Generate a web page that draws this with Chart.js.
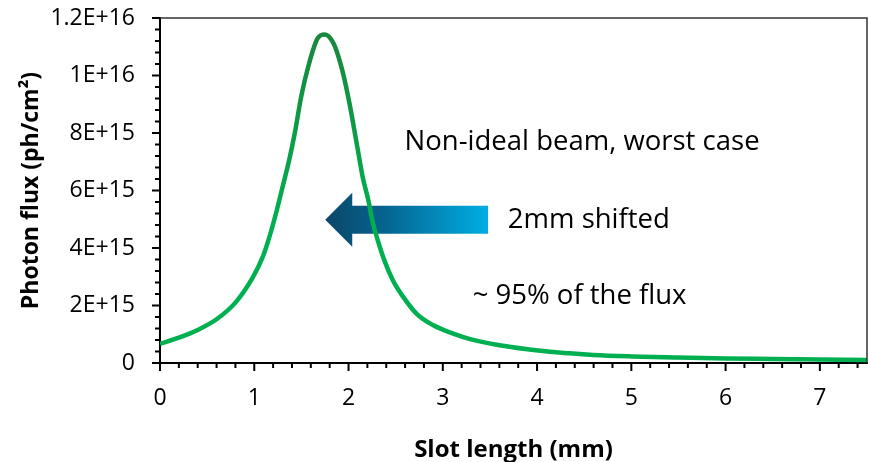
<!DOCTYPE html>
<html lang="en">
<head>
<meta charset="UTF-8">
<title>Photon flux vs slot length</title>
<script src="https://cdn.jsdelivr.net/npm/chart.js"></script>
<style>
  html, body { margin: 0; padding: 0; background: #fff; }
</style>
</head>
<body>
<canvas id="fluxChart" width="869" height="462"></canvas>
<script>
// slot length (mm) and photon flux (ph/cm2) along the slot
const slotLength = [0, 0.2, 0.4, 0.6, 0.8, 0.98, 1.09, 1.16, 1.23, 1.3, 1.37, 1.43, 1.5, 1.58, 1.67,
  1.75, 1.84, 1.92, 2.0, 2.1, 2.15, 2.21, 2.26, 2.31, 2.38, 2.47, 2.58, 2.72, 2.9, 3.11, 3.3, 3.6,
  3.9, 4.2, 4.6, 5.0, 5.5, 6.0, 6.5, 7.0, 7.5];
const photonFlux = [0.67e15, 0.88e15, 1.15e15, 1.52e15, 2.1e15, 2.95e15, 3.69e15, 4.38e15, 5.2e15,
  6.12e15, 7.05e15, 8.0e15, 9.3e15, 10.4e15, 11.28e15, 11.43e15, 11.12e15, 10.35e15, 9.2e15,
  7.39e15, 6.47e15, 5.66e15, 4.85e15, 4.27e15, 3.57e15, 2.88e15, 2.3e15, 1.72e15, 1.31e15, 1.02e15,
  0.82e15, 0.62e15, 0.48e15, 0.37e15, 0.28e15, 0.23e15, 0.19e15, 0.16e15, 0.14e15, 0.12e15, 0.1e15];

const xTicks = [0, 1, 2, 3, 4, 5, 6, 7];
const yTicks = [0, 2e15, 4e15, 6e15, 8e15, 1e16, 1.2e16];
const yTickLabels = ['0', '2E+15', '4E+15', '6E+15', '8E+15', '1E+16', '1.2E+16'];

const notes = ['Non-ideal beam, worst case', '2mm shifted', '~ 95% of the flux'];

const FONT = "'Open Sans', 'Liberation Sans', sans-serif";

// tick marks, plot frame, arrow and text notes
const decorations = {
  id: 'decorations',
  beforeDatasetsDraw(chart) {
    const { ctx, scales: { x, y } } = chart;
    // shift arrow, pointing left toward the peak
    const tip = x.getPixelForValue(1.753);
    const tail = x.getPixelForValue(3.48);
    const cy = y.getPixelForValue(4.98e15);
    const headLen = 27, headH = 27, shaftH = 14;
    const g = ctx.createLinearGradient(tip, 0, tail, 0);
    g.addColorStop(0, '#0c4668');
    g.addColorStop(0.35, '#06628e');
    g.addColorStop(1, '#00aee3');
    ctx.save();
    ctx.fillStyle = g;
    ctx.beginPath();
    ctx.moveTo(tip, cy);
    ctx.lineTo(tip + headLen, cy - headH);
    ctx.lineTo(tip + headLen, cy - shaftH);
    ctx.lineTo(tail, cy - shaftH);
    ctx.lineTo(tail, cy + shaftH);
    ctx.lineTo(tip + headLen, cy + shaftH);
    ctx.lineTo(tip + headLen, cy + headH);
    ctx.closePath();
    ctx.fill();
    ctx.restore();
  },
  afterDraw(chart) {
    const { ctx, chartArea: a, scales: { x, y } } = chart;
    ctx.save();

    ctx.strokeStyle = '#333';
    ctx.lineWidth = 1.5;
    ctx.beginPath();
    ctx.moveTo(a.left, a.top);
    ctx.lineTo(a.right, a.top);
    ctx.lineTo(a.right, a.bottom);
    ctx.stroke();

    // major and minor tick marks, outside the plot
    ctx.strokeStyle = '#000';
    ctx.lineWidth = 2;
    ctx.beginPath();
    for (let i = 0; i <= 37; i++) {
      const px = x.getPixelForValue(i * 0.2);
      const len = i % 5 === 0 ? 8 : 5;
      ctx.moveTo(px, a.bottom);
      ctx.lineTo(px, a.bottom + len);
    }
    for (let i = 0; i <= 30; i++) {
      const py = y.getPixelForValue(i * 4e14);
      const len = i % 5 === 0 ? 8 : 5;
      ctx.moveTo(a.left, py);
      ctx.lineTo(a.left - len, py);
    }
    ctx.stroke();

    ctx.fillStyle = '#000';
    ctx.font = '27.5px ' + FONT;
    ctx.textBaseline = 'middle';
    ctx.textAlign = 'left';
    ctx.fillText(notes[0], x.getPixelForValue(2.595), y.getPixelForValue(7.68e15));
    ctx.fillText(notes[1], x.getPixelForValue(3.69), y.getPixelForValue(4.96e15));
    ctx.fillText(notes[2], x.getPixelForValue(3.317), y.getPixelForValue(2.32e15));
    ctx.restore();
  }
};

const ctx = document.getElementById('fluxChart').getContext('2d');

new Chart(ctx, {
  type: 'line',
  data: {
    datasets: [{
      data: slotLength.map((v, i) => ({ x: v, y: photonFlux[i] })),
      borderWidth: 4.5,
      borderColor(c) {
        const area = c.chart.chartArea;
        if (!area) return '#00b050';
        const grad = c.chart.ctx.createLinearGradient(0, area.top, 0, area.bottom);
        grad.addColorStop(0, '#1a843c');
        grad.addColorStop(0.6, '#00b050');
        grad.addColorStop(1, '#00b050');
        return grad;
      },
      pointRadius: 0,
      cubicInterpolationMode: 'monotone',
      fill: false
    }]
  },
  options: {
    responsive: false,
    animation: false,
    devicePixelRatio: 1,
    layout: { padding: { top: 18, right: 2, left: 0, bottom: 0 } },
    plugins: { legend: { display: false }, tooltip: { enabled: false } },
    scales: {
      x: {
        type: 'linear',
        min: 0,
        max: 7.5,
        afterBuildTicks: s => { s.ticks = xTicks.map(v => ({ value: v })); },
        afterFit: s => { s.height = 99; s.paddingLeft = 0; s.paddingRight = 0; },
        grid: { display: false, drawTicks: false },
        border: { display: true, color: '#000', width: 2 },
        ticks: { color: '#000', font: { family: FONT, size: 23 }, padding: 22, maxRotation: 0 },
        title: {
          display: true,
          text: 'Slot length (mm)',
          color: '#000',
          font: { family: FONT, size: 24, weight: 'bold' },
          padding: { top: 0, bottom: -3 }
        }
      },
      y: {
        type: 'linear',
        min: 0,
        max: 1.2e16,
        afterBuildTicks: s => { s.ticks = yTicks.map(v => ({ value: v })); },
        afterFit: s => { s.width = 160; s.paddingTop = 0; s.paddingBottom = 0; },
        grid: { display: false, drawTicks: false },
        border: { display: true, color: '#000', width: 2 },
        ticks: {
          color: '#000',
          font: { family: FONT, size: 23 },
          padding: 25,
          callback: (v, i) => yTickLabels[i]
        },
        title: {
          display: true,
          text: 'Photon flux (ph/cm²)',
          color: '#000',
          font: { family: FONT, size: 23, weight: 'bold' },
          padding: { top: 18, bottom: 0 }
        }
      }
    }
  },
  plugins: [decorations]
});
</script>
</body>
</html>
